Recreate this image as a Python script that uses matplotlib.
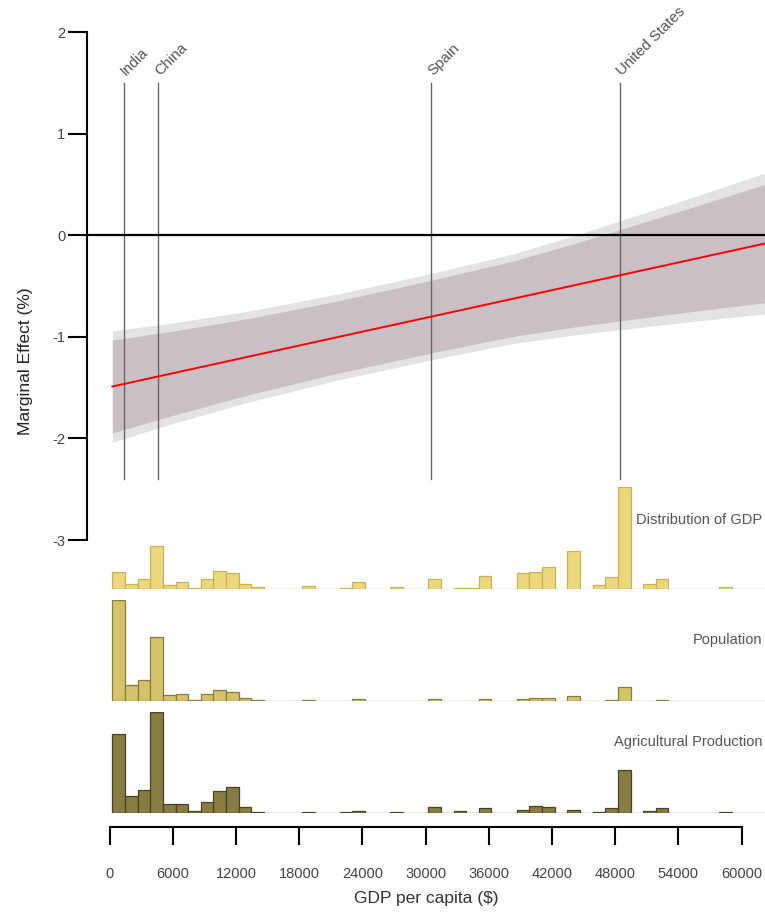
import numpy as np
import matplotlib
matplotlib.use("Agg")
import matplotlib.pyplot as plt

plt.rcParams['font.family'] = ['Liberation Sans', 'DejaVu Sans']
plt.rcParams['axes.unicode_minus'] = False

# marginal effect with 90% and 95% bands
band_x = [250, 6000, 13300, 22000, 30600, 38000, 44000, 48450, 55000, 62220]
fit = [-1.488, -1.357, -1.191, -0.993, -0.798, -0.630, -0.493, -0.392,
       -0.243, -0.079]
ci90_lo = [-1.945, -1.772, -1.566, -1.348, -1.156, -1.000, -0.903, -0.842,
           -0.753, -0.662]
ci90_hi = [-1.031, -0.942, -0.816, -0.638, -0.440, -0.260, -0.083, 0.058,
           0.267, 0.504]
ci95_lo = [-2.036, -1.852, -1.638, -1.416, -1.224, -1.070, -0.981, -0.928,
           -0.850, -0.773]
ci95_hi = [-0.940, -0.862, -0.744, -0.570, -0.372, -0.190, -0.005, 0.144,
           0.364, 0.615]

countries = ['India', 'China', 'Spain', 'United States']
country_gdp = [1360, 4560, 30540, 48480]

# histograms: bins of $1200 starting at $250
bin_start = 250
bin_width = 1200
gdp_share = [17, 5.3, 10, 43.3, 4, 7.7, 1, 10, 18.3, 16.3, 5.3, 2, 0, 0, 0, 3.3,
             0, 0, 1.3, 7.7, 0, 0, 2, 0, 0, 10.7, 0, 1, 1, 13.7, 0, 0, 16, 17,
             22, 0, 38, 0, 4, 12, 102, 0, 5, 10.7, 0, 0, 0, 0, 2, 0, 0, 0]
pop_share = [101, 15.7, 21, 64.3, 6, 7, 1, 7, 11.3, 9.3, 3, 1, 0, 0, 0, 1,
             0, 0, 0, 2, 0, 0, 0, 0, 0, 2, 0, 0, 0, 2, 0, 0, 2, 3,
             3, 0, 5, 0, 0, 1, 13.7, 0, 0, 1, 0, 0, 0, 0, 0, 0, 0, 0]
agri_share = [78.7, 16.3, 23, 100.7, 9, 9, 2, 10.3, 22, 26, 6, 1, 0, 0, 0, 1,
              0, 0, 1, 2, 0, 0, 1, 0, 0, 6, 0, 2, 0, 5, 0, 0, 3, 7,
              6, 0, 3, 0, 1, 5, 43, 0, 2, 5, 0, 0, 0, 0, 1, 0, 0, 0]
hist_labels = ['Distribution of GDP', 'Population', 'Agricultural Production']
hist_face = ['#ecd87c', '#d5c36c', '#877c42']
hist_edge = ['#c9b35a', '#8a7c3c', '#4a4226']

x_ticks = list(range(0, 60001, 6000))
y_ticks = [2, 1, 0, -1, -2, -3]

W, H = 765, 913
XLIM = (-2155, 62220)


def rect(left, top, right, bottom):
    return [left / W, 1 - bottom / H, (right - left) / W, (bottom - top) / H]


fig = plt.figure(figsize=(W / 100, H / 100), dpi=100)

# top panel
ax = fig.add_axes(rect(87, 27.4, 765, 540))
ax.set_xlim(*XLIM)
ax.set_ylim(-3, 2.05)
ax.fill_between(band_x, ci95_lo, ci95_hi, color='#e3e3e3', lw=0)
ax.fill_between(band_x, ci90_lo, ci90_hi, color='#c9bfc4', lw=0)
ax.plot(band_x, fit, color='red', lw=1.4, zorder=4)
ax.axhline(0, color='black', lw=1.6, zorder=5)
for name, g in zip(countries, country_gdp):
    ax.plot([g, g], [-2.4, 1.5], color='#666666', lw=1, zorder=3)
    ax.annotate(name, xy=(g, 1.5), xytext=(1.5, 5), textcoords='offset points',
                rotation=45, rotation_mode='anchor', ha='left', va='baseline',
                fontsize=10.8, color='#555555', annotation_clip=False)
for s in ['top', 'right', 'bottom']:
    ax.spines[s].set_visible(False)
ax.spines['left'].set_bounds(-3, 2)
ax.spines['left'].set_linewidth(1.5)
ax.set_yticks(y_ticks)
ax.set_xticks([])
ax.tick_params(axis='y', length=13.7, width=1.5, pad=2, labelsize=10.5,
               labelcolor='#444444')
ax.patch.set_alpha(0)

# histogram panels
panels = [(487.3, 589.3), (600, 701), (711.7, 812.7)]
series = [gdp_share, pop_share, agri_share]
lefts = bin_start + bin_width * np.arange(len(gdp_share))
label_y = [520, 640, 741.7]
hax = []
for (top, bottom), vals, fc, ec, lab, ly in zip(panels, series, hist_face,
                                                 hist_edge, hist_labels, label_y):
    a = fig.add_axes(rect(87, top, 765, bottom))
    a.bar(lefts, vals, width=bin_width, align='edge', color=fc, edgecolor=ec,
          lw=0.9)
    a.set_xlim(*XLIM)
    a.set_ylim(0, max(vals))
    for s in ['top', 'right', 'left', 'bottom']:
        a.spines[s].set_visible(False)
    a.set_yticks([])
    a.set_xticks([])
    a.patch.set_alpha(0)
    fig.text(762 / W, 1 - ly / H, lab, ha='right', va='center', fontsize=10.5,
             color='#555555')
    hax.append(a)

# x axis under the last histogram
xa = hax[-1]
xa.spines['bottom'].set_visible(True)
xa.spines['bottom'].set_position(('outward', 10.1))
xa.spines['bottom'].set_bounds(0, 60000)
xa.spines['bottom'].set_linewidth(1.5)
xa.set_xticks(x_ticks)
xa.tick_params(axis='x', length=13, width=1.5, pad=16, labelsize=10.5,
               labelcolor='#444444')

fig.text(426 / W, 1 - 898 / H, 'GDP per capita ($)', ha='center', va='center',
         fontsize=12.5, color='#333333')
fig.text(26 / W, 1 - 361 / H, 'Marginal Effect (%)', ha='center', va='center',
         rotation=90, fontsize=12.5, color='#222222')

fig.savefig('out.png', dpi=100)
